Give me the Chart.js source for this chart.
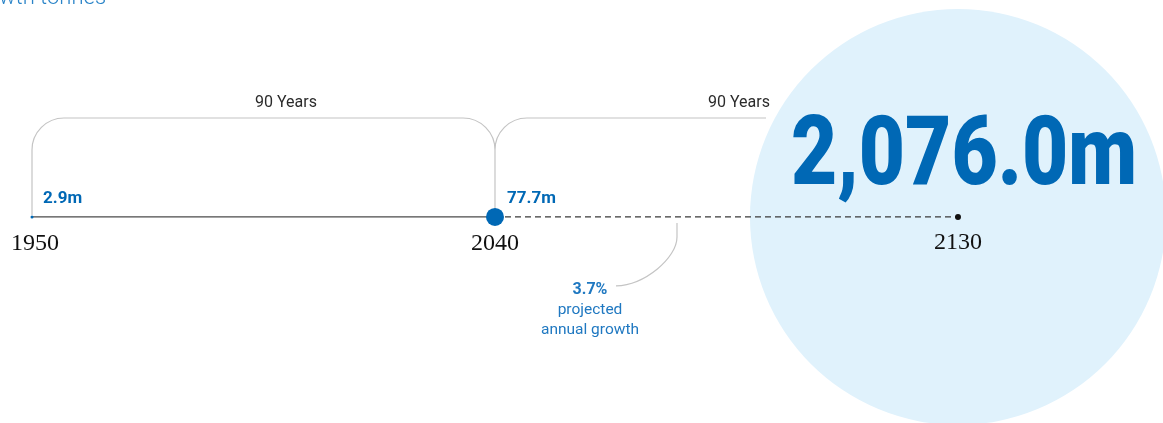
<!DOCTYPE html>
<html>
<head>
<meta charset="utf-8">
<script src="https://cdn.jsdelivr.net/npm/chart.js@4.4.1/dist/chart.umd.min.js"></script>
<style>
html, body { margin: 0; padding: 0; background: #fff; }
#wrap { position: relative; width: 1163px; height: 423px; }
</style>
</head>
<body>
<div id="wrap"><canvas id="chart"></canvas></div>
<script>
// data
const years = [1950, 2040, 2130];
const values = [2.9, 77.7, 2076.0];
const growthRate = 3.7;
const growthText = ["projected", "annual growth"];
const titleTail = "wth tonnes";

const BLUE = "#0068b5";
const LIGHT_BLUE = "#1f78c1";
const CIRCLE_R = 208;

const fmt = (v) => v.toLocaleString("en-US", { minimumFractionDigits: 1, maximumFractionDigits: 1 }) + "m";

// brackets, labels, leader and the big number
const overlay = {
	id: "overlay",
	beforeDatasetsDraw(chart) {
		const { ctx, scales: { x, y } } = chart;
		const px = years.map((v) => x.getPixelForValue(v));
		const py = y.getPixelForValue(0);
		const top = 118, r = 32;
		const endX = px[2] - Math.sqrt(CIRCLE_R * CIRCLE_R - (py - top) * (py - top)) - 9;

		ctx.save();
		ctx.strokeStyle = "#c4c4c4";
		ctx.lineWidth = 1.2;
		ctx.beginPath();
		ctx.moveTo(px[0], py - 2);
		ctx.arcTo(px[0], top, px[0] + r, top, r);
		ctx.arcTo(px[1], top, px[1], top + r, r);
		ctx.lineTo(px[1], py - 8);
		ctx.moveTo(px[1], top + r);
		ctx.arcTo(px[1], top, px[1] + r, top, r);
		ctx.lineTo(endX, top);
		ctx.stroke();

		// span labels
		ctx.fillStyle = "#2b2b2b";
		ctx.font = "16px Roboto";
		ctx.textAlign = "center";
		ctx.textBaseline = "alphabetic";
		ctx.fillText(`${years[1] - years[0]} Years`, px[0] + 254, 107);
		ctx.fillText(`${years[2] - years[1]} Years`, px[1] + 244, 107);

		// growth leader
		const gx = px[1] + 95;
		ctx.beginPath();
		ctx.moveTo(gx + 87, py + 6);
		ctx.lineTo(gx + 87, py + 20);
		ctx.bezierCurveTo(gx + 87, py + 41, gx + 55, py + 68, gx + 26, py + 69);
		ctx.stroke();

		ctx.fillStyle = LIGHT_BLUE;
		ctx.font = "bold 16px Roboto";
		ctx.fillText(growthRate.toFixed(1) + "%", gx, py + 77);
		ctx.font = "15.5px Roboto";
		ctx.fillText(growthText[0], gx, py + 97);
		ctx.fillText(growthText[1], gx, py + 117);

		// title remnant at the top
		ctx.textAlign = "left";
		ctx.font = "300 22px Roboto";
		ctx.fillStyle = "#2a84c8";
		ctx.fillText(titleTail, -1, 4);
		ctx.restore();
	},
	afterDatasetsDraw(chart) {
		const { ctx, scales: { x, y } } = chart;
		const px = years.map((v) => x.getPixelForValue(v));
		const py = y.getPixelForValue(0);
		ctx.save();

		// small value labels
		ctx.fillStyle = BLUE;
		ctx.font = "bold 17px Roboto";
		ctx.textAlign = "left";
		ctx.textBaseline = "alphabetic";
		ctx.fillText(fmt(values[0]), px[0] + 11, py - 14);
		ctx.fillText(fmt(values[1]), px[1] + 12, py - 14);

		// big number, squeezed to the reference width
		ctx.font = "900 97px Roboto";
		const big = fmt(values[2]);
		const w = ctx.measureText(big).width;
		ctx.translate(px[2] - 167, py - 33);
		ctx.scale(346 / w, 1);
		ctx.fillText(big, 0, 0);
		ctx.setTransform(1, 0, 0, 1, 0, 0);

		// year labels
		ctx.fillStyle = "#111";
		ctx.font = "24px 'Liberation Serif'";
		ctx.textAlign = "center";
		ctx.fillText(String(years[0]), px[0] + 3, py + 33);
		ctx.fillText(String(years[1]), px[1], py + 33);
		ctx.fillText(String(years[2]), px[2], py + 32);
		ctx.restore();
	},
};

const points = years.map((yr) => ({ x: yr, y: 0 }));

new Chart(document.getElementById("chart"), {
	type: "scatter",
	data: {
		datasets: [
			{
				data: [points[2]],
				pointRadius: CIRCLE_R,
				pointBackgroundColor: "#e0f2fc",
				pointBorderWidth: 0,
				clip: false,
				order: 2,
			},
			{
				type: "line",
				data: points,
				showLine: true,
				borderColor: "#4a4a4a",
				borderWidth: 1.4,
				segment: {
					borderDash: (c) => (c.p0.parsed.x >= years[1] ? [6, 4] : undefined),
					borderColor: (c) => (c.p0.parsed.x >= years[1] ? "#3a3a3a" : "#4a4a4a"),
				},
				pointRadius: [1.5, 9, 3],
				pointBackgroundColor: [BLUE, BLUE, "#111"],
				pointBorderWidth: 0,
				clip: false,
				order: 1,
			},
		],
	},
	options: {
		responsive: true,
		maintainAspectRatio: false,
		animation: false,
		events: [],
		layout: { padding: 0, autoPadding: false },
		plugins: { legend: { display: false }, tooltip: { enabled: false } },
		scales: {
			x: { type: "linear", display: false, min: 1943.78, max: 2169.85 },
			y: { display: false, min: -0.95, max: 1 },
		},
	},
	plugins: [overlay],
});
</script>
</body>
</html>
